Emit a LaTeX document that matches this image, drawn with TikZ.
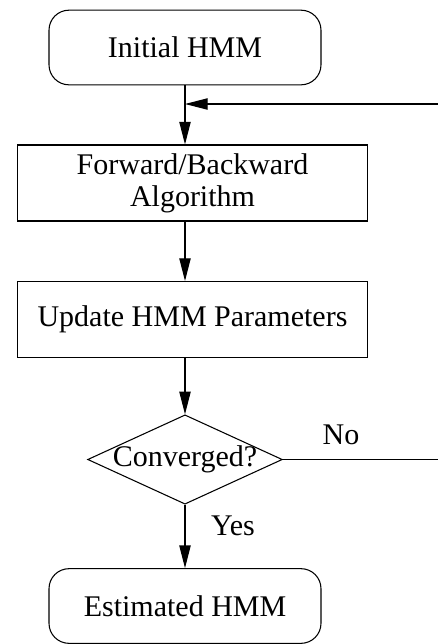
\documentclass[tikz,border=0pt]{standalone}
\usepackage{fontspec}
\setmainfont{Liberation Serif}
\usetikzlibrary{shapes.geometric,arrows.meta}

\begin{document}
\begin{tikzpicture}[x=0.75pt, y=-0.75pt, line width=0.8pt,
    font=\fontsize{22.5}{24}\selectfont,
    term/.style={draw, rectangle, rounded corners=15pt, minimum width=204pt, minimum height=56pt, inner sep=0pt},
    rect/.style={draw, rectangle, minimum width=262pt, minimum height=57pt, inner sep=0pt, align=center},
    decide/.style={draw, diamond, aspect=2.2, minimum width=146pt, minimum height=67pt, inner sep=0pt},
    arr/.style={-{Triangle[length=17pt, width=8.5pt]}}]
    \useasboundingbox (0,0) rectangle (438,644);

    % Steps
    \node[term] (init) at (185,47.5) {Initial HMM};
    \node[rect] (fb) at (192.5,183) {Forward/Backward\\Algorithm};
    \node[rect] (upd) at (192.5,319.5) {Update HMM Parameters};
    \node[decide] (conv) at (185,459.5) {\makebox[0pt]{Converged?}};
    \node[term] (est) at (185,606) {Estimated HMM};

    % Labels
    \node (no) at (341,435) {No};
    \node (yes) at (233,526) {Yes};

    % Loop ends
    \coordinate (noR) at (440,459.5);
    \coordinate (backR) at (440,104);

    % Arrows
    \draw[arr] (init.south) -- (init.south |- fb.north);
    \draw[arr] (init.south |- fb.south) -- (init.south |- upd.north);
    \draw[arr] (init.south |- upd.south) -- (conv.north);
    \draw[arr] (conv.south) -- (est.north);
    \draw (conv.east) -- (noR);
    \draw[arr] (backR) -- (init.south |- backR);

\end{tikzpicture}
\end{document}
